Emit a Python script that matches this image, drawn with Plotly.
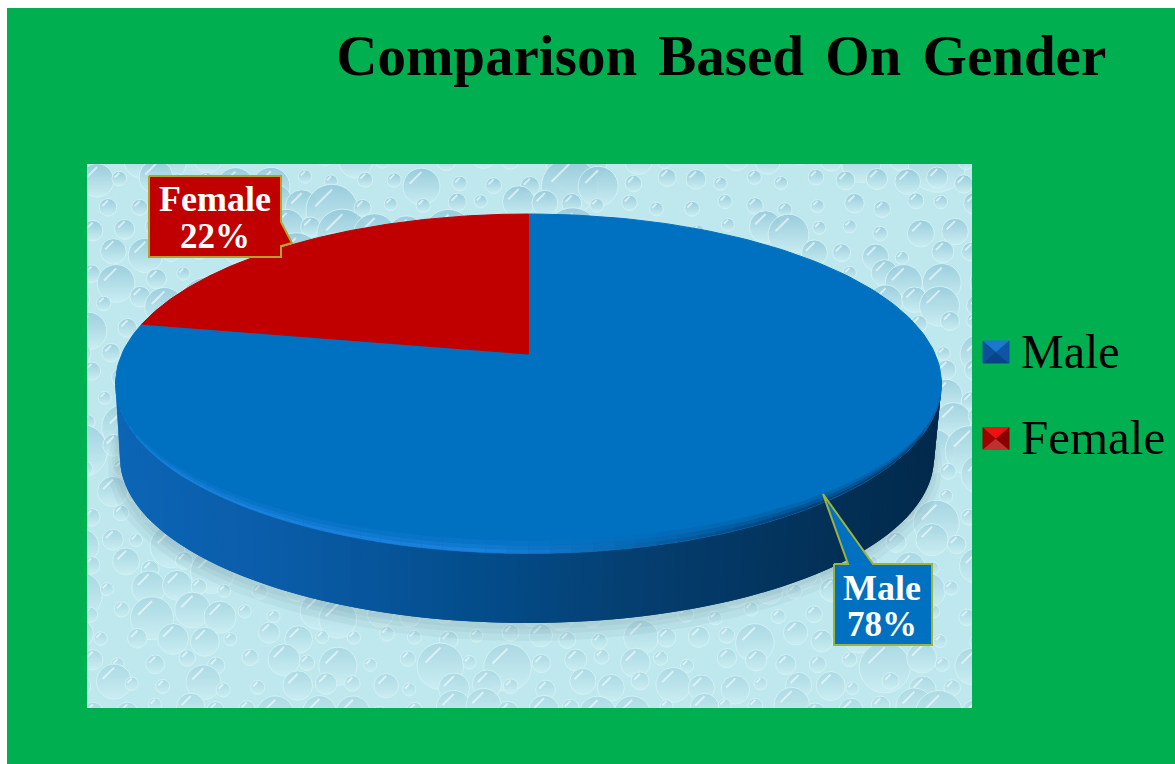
import math
import numpy as np
import plotly.graph_objects as go

# ---- data ----
categories = ["Male", "Female"]
values = [78, 22]
label_values = ["78%", "22%"]
title_text = "Comparison Based On Gender"

# ---- palette / layout constants ----
GREEN = "#00B050"
TOP = {"Male": "#0070C0", "Female": "#C00000"}
CX, APEX_Y, A_PX, UP, DOWN = 528.5, 354.0, 413.0, 140.0, 199.5
DEPTH_CY, DEPTH_A, DEPTH_B, DEPTH_CX = 458.0, 407.0, 165.0, 527.0
PANEL = (87, 972, 164, 708)
SERIF = "Liberation Serif"

r = (DOWN - UP) / (DOWN + UP)
P = UP * (1 + r)
AA = A_PX * math.sqrt(1 - r * r)
ECY = APEX_Y + (DOWN - UP) / 2
EB = (DOWN + UP) / 2


def face(frac):
    """Fraction of the pie (clockwise from 12 o'clock) onto the tilted disc."""
    th = 2 * np.pi * np.asarray(frac)
    u, v = np.sin(th), np.cos(th)
    d = 1 + r * v
    return CX + AA * u / d, APEX_Y - P * v / d


def mix(c1, c2, f):
    a = [int(c1[i:i + 2], 16) for i in (1, 3, 5)]
    b = [int(c2[i:i + 2], 16) for i in (1, 3, 5)]
    return "rgb(%d,%d,%d)" % tuple(round(x + (y - x) * f) for x, y in zip(a, b))


def ramp(stops, f):
    for (f0, c0), (f1, c1) in zip(stops, stops[1:]):
        if f <= f1:
            return mix(c0, c1, (f - f0) / (f1 - f0))
    return stops[-1][1]


fig = go.Figure()


def poly(xs, ys, color, line=None, lw=1):
    fig.add_trace(go.Scatter(
        x=list(xs), y=list(ys), mode="lines", fill="toself", fillcolor=color,
        line=dict(color=line or color, width=lw), hoverinfo="skip", showlegend=False))


# ---- water-drop texture on the panel (decorative, deterministic lattice) ----
px0, px1, py0, py1 = PANEL
dx, dy, ds, dc = [], [], [], []
row = 0
yy = py0 - 6
while yy < py1 + 14:
    xx = px0 - 10 + (row % 2) * 15
    col = 0
    while xx < px1 + 14:
        h = abs(math.sin(row * 12.9898 + col * 78.233) * 43758.5453) % 1
        k = abs(math.sin(row * 39.346 + col * 11.135) * 24634.6345) % 1
        dx.append(xx + 12 * (h - .5))
        dy.append(yy + 11 * (k - .5))
        ds.append(13 + 24 * h * h + (24 if k > .88 else 0))
        dc.append(mix("#8fc5d8", "#a9d8e3", min(1, max(0, (yy - py0) / (py1 - py0)))))
        xx += 27 + 9 * k
        col += 1
    yy += 24
    row += 1
fig.add_trace(go.Scatter(
    x=dx, y=dy, mode="markers", hoverinfo="skip", showlegend=False,
    marker=dict(size=ds, symbol="circle", color=dc, opacity=.8,
                gradient=dict(type="vertical", color="#cdeff3"),
                line=dict(color="#d8f5f7", width=1))))
fig.add_trace(go.Scatter(
    x=[a - s * .16 for a, s in zip(dx, ds)], y=[b - s * .24 for b, s in zip(dy, ds)],
    mode="markers", hoverinfo="skip", showlegend=False,
    marker=dict(size=[s * .32 for s in ds], symbol="line-ne",
                line=dict(color="rgba(244,253,254,.9)", width=2))))

# green frame hides drops past the panel edge
L, R, T, B = 7, 1175, 8, 764
for bx0, bx1, by0, by1 in [(L, R, T, py0), (L, R, py1, B), (L, px0, T, B), (px1, R, T, B)]:
    poly([bx0, bx1, bx1, bx0], [by0, by0, by1, by1], GREEN, line="rgba(0,0,0,0)", lw=0)

# ---- soft shadow ----
tt = np.linspace(0, 2 * np.pi, 160)
for grow, off in [(10, 8), (6, 5), (3, 3)]:
    poly(DEPTH_CX - 2 + (DEPTH_A + grow) * np.cos(tt), DEPTH_CY + off + (DEPTH_B + grow) * np.sin(tt),
         "rgba(90,120,130,.07)", line="rgba(0,0,0,0)", lw=0)

# ---- side wall: overlapping strips, painted left to right ----
WALL = [(0, "#0c65b6"), (.2, "#0a5ca8"), (.45, "#034c8a"), (.62, "#053f72"),
        (.82, "#03335c"), (1, "#02294a")]
N = 120
ts = np.linspace(np.pi, 0, N + 1)
for i in range(N):
    t0 = ts[i]
    t1 = ts[min(i + 2, N)]
    xs = [CX + A_PX * math.cos(t0), CX + A_PX * math.cos(t1),
          DEPTH_CX + DEPTH_A * math.cos(t1), DEPTH_CX + DEPTH_A * math.cos(t0)]
    ys = [ECY + EB * math.sin(t0), ECY + EB * math.sin(t1),
          DEPTH_CY + DEPTH_B * math.sin(t1), DEPTH_CY + DEPTH_B * math.sin(t0)]
    f = (math.cos(ts[i]) + math.cos(ts[i + 1]) + 2) / 4
    poly(xs, ys, ramp(WALL, f), line="rgba(0,0,0,0)", lw=0)

# ---- top face, slices from the values ----
total = sum(values)
start = 0.0
for name, val in zip(categories, values):
    fr = np.linspace(start, start + val / total, 200)
    x, y = face(fr)
    poly([CX, *x, CX], [APEX_Y, *y, APEX_Y], TOP[name])
    start += val / total

# ---- bevel on the rim ----
EDGE = [(0, "#1a80dc"), (.45, "#1a80dc"), (.62, "#0a66b0"), (.8, "#03457c"), (1, "#033a68")]
BANDS = [(0, 4, 1.0), (4, 8, .6), (8, 13, .25)]
N = 60
ts = np.linspace(np.pi, 0, N + 1)
for d0, d1, w in BANDS:
    for i in range(N):
        t0, t1 = ts[i], ts[i + 1]
        xs = [CX + A_PX * math.cos(t0), CX + A_PX * math.cos(t1), CX + A_PX * math.cos(t1), CX + A_PX * math.cos(t0)]
        ys = [ECY + (EB - d0) * math.sin(t0), ECY + (EB - d0) * math.sin(t1),
              ECY + (EB - d1) * math.sin(t1), ECY + (EB - d1) * math.sin(t0)]
        f = (xs[0] + xs[1] - 2 * (CX - A_PX)) / (4 * A_PX)
        c = ramp(EDGE, f)
        rgb = c[4:-1].split(",")
        poly(xs, ys, "rgba(%s,%s,%s,%.2f)" % (*rgb, w), line="rgba(0,0,0,0)", lw=0)

# ---- callouts ----
poly([149, 281, 281, 292, 281, 281, 149, 149], [176, 176, 222, 243, 246, 257, 257, 176],
     "#C00000", line="#b4a22c", lw=2)
poly([834, 848, 823, 873, 932, 932, 834, 834], [564, 564, 494, 564, 564, 645, 645, 564],
     "#0070C0", line="#9eb23e", lw=2)

# ---- legend swatches (bevelled squares) ----
SW = {"Male": (996, 352, "#1a78d0", "#0c4f9c", "#0a4488", "#0e55a4"),
      "Female": (996, 438.5, "#f01010", "#a00000", "#c03030", "#880000")}
for name in categories:
    mx, my, ctop, cleft, cbot, cright = SW[name]
    hw, hh = 13, 11
    poly([mx - hw, mx + hw, mx], [my - hh, my - hh, my], ctop)
    poly([mx - hw, mx - hw, mx], [my - hh, my + hh, my], cleft)
    poly([mx - hw, mx + hw, mx], [my + hh, my + hh, my], cbot)
    poly([mx + hw, mx + hw, mx], [my - hh, my + hh, my], cright)

# ---- text ----
ann = []


def text(x, y, s, size, color, bold=False, anchor="center"):
    ann.append(dict(x=x, y=y, xref="x", yref="y", text=f"<b>{s}</b>" if bold else s,
                    showarrow=False, xanchor=anchor, yanchor="middle",
                    font=dict(family=SERIF, size=size, color=color)))


text(215, 199, categories[1], 36, "white", True)
text(215, 236, label_values[1], 35, "white", True)
text(882, 588, categories[0], 36, "white", True)
text(882, 624, label_values[0], 35, "white", True)
text(1019, 351, categories[0], 48, "black", anchor="left")
text(1019, 437, categories[1], 49, "black", anchor="left")

fig.update_layout(
    width=1175, height=764, autosize=False,
    margin=dict(l=7, r=0, t=8, b=0, pad=0),
    paper_bgcolor="white", plot_bgcolor=GREEN, showlegend=False,
    title=dict(text=f"<b>{title_text}</b>", x=718.5 / 1175, xanchor="center", xref="paper",
               y=1 - 55 / 764, yanchor="middle", yref="container",
               font=dict(family=SERIF, size=57, color="black")),
    xaxis=dict(range=[7, 1175], visible=False, fixedrange=True),
    yaxis=dict(range=[764, 8], visible=False, fixedrange=True),
    annotations=ann,
    shapes=[dict(type="rect", xref="x", yref="y", x0=px0, x1=px1, y0=py0, y1=py1,
                 fillcolor="#bfe8ee", line=dict(width=0), layer="below")],
)
post = """
document.body.style.margin='0';document.body.style.overflow='hidden';
var fixTitle=function(){var t=document.querySelector('.gtitle');if(t){t.style.wordSpacing='7px';}};
fixTitle();setTimeout(fixTitle,0);
"""
fig.write_html("out.html", post_script=post, config=dict(displayModeBar=False))
